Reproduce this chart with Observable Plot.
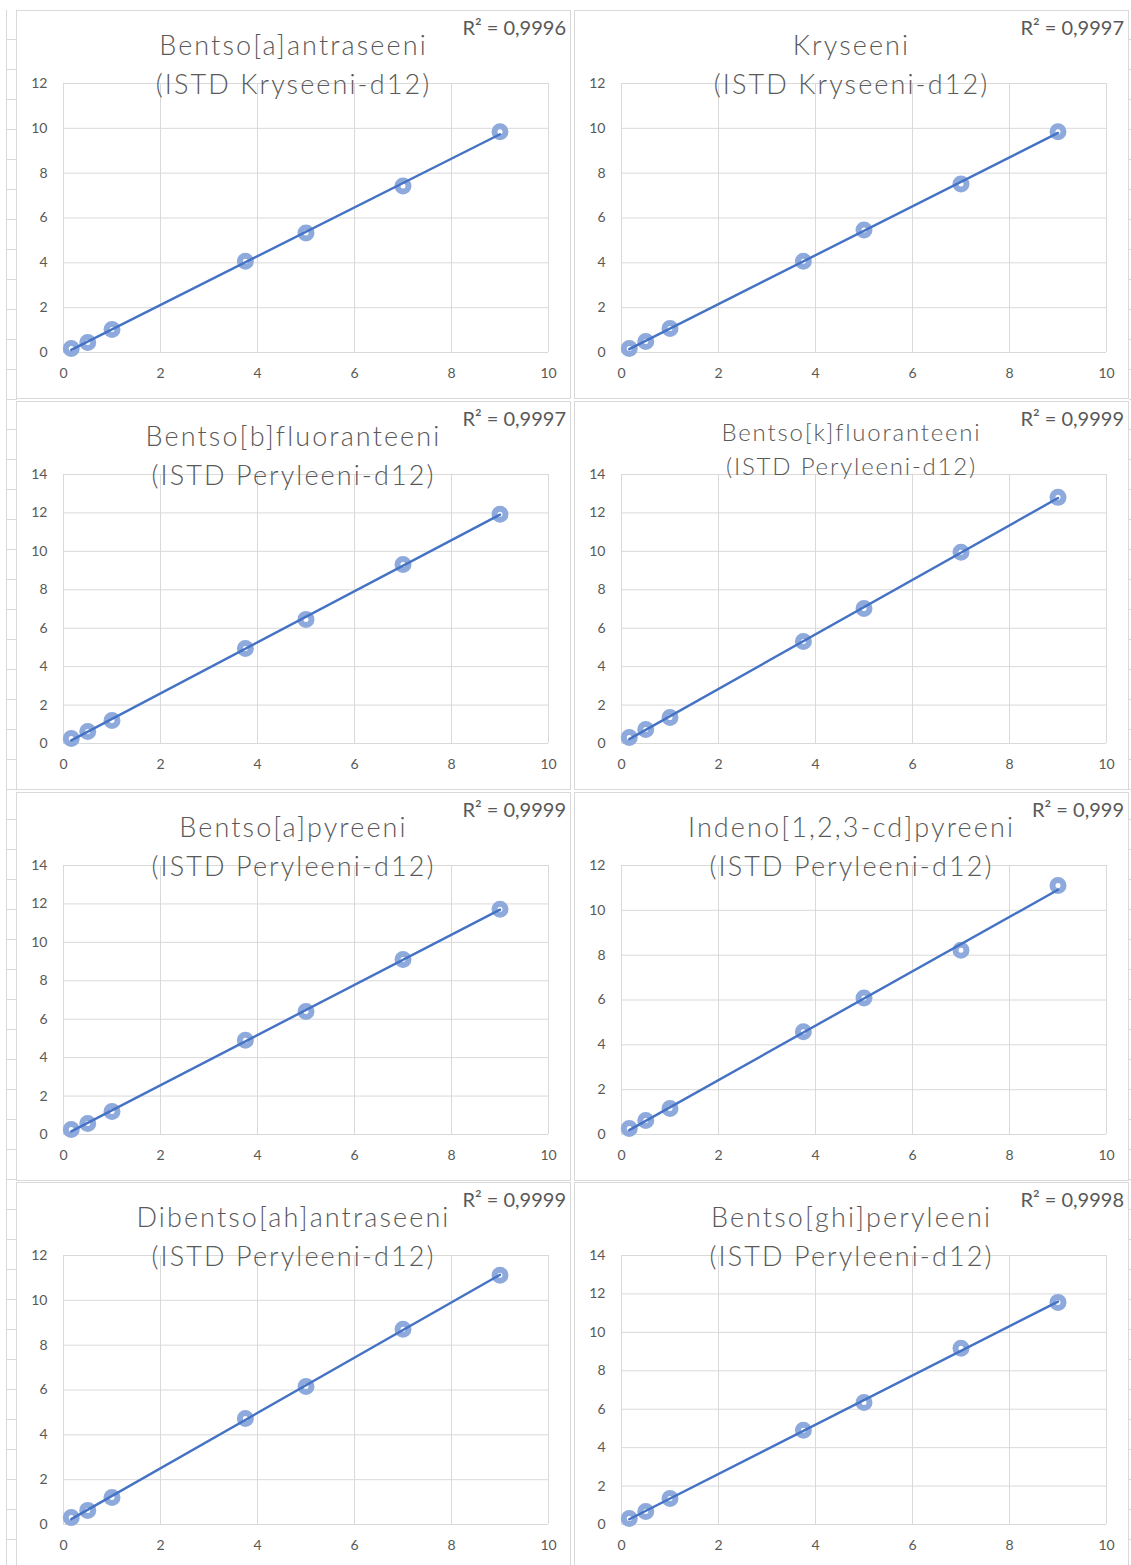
<!DOCTYPE html>
<html>
<head>
<meta charset="utf-8">
<script src="https://cdn.jsdelivr.net/npm/d3@7"></script>
<script src="https://cdn.jsdelivr.net/npm/@observablehq/plot@0.6"></script>
<style>
  body { margin: 0; background: #fff; width: 1131px; height: 1565px; overflow: hidden; position: relative;
         font-family: Lato, "Open Sans", "Noto Sans", sans-serif; }
  .sheet-left { position: absolute; left: 6px; top: 10px; width: 10px; height: 1560px;
                border-left: 1px solid #D9D9D9;
                background: repeating-linear-gradient(to bottom, transparent 0 29px, #D9D9D9 29px 30px); }
  .sheet-right { position: absolute; left: 1129px; top: 10px; width: 4px; height: 1560px;
                 background: repeating-linear-gradient(to bottom, transparent 0 29px, #D9D9D9 29px 30px); }
  .panel { position: absolute; box-sizing: border-box; width: 555px; height: 389px;
           border: 1px solid #D9D9D9; background: #fff; overflow: hidden; }
  .panel svg { position: absolute; left: 0; top: 0; }
  .panel svg text { font-size: 14px !important; font-family: Lato, "Open Sans", sans-serif !important; fill: #595959; }
  .title { position: absolute; left: 0; right: 0; top: 14px; text-align: center; color: #595959;
           font-weight: 300; font-size: 27px; letter-spacing: 2.1px; line-height: 39px; white-space: nowrap; }
  .title.compact { top: 13px; font-size: 24px; letter-spacing: 1.8px; line-height: 34px; }
  .r2 { position: absolute; right: 4px; top: 4px; color: #595959; font-size: 20px; white-space: nowrap; }
</style>
</head>
<body>
<div class="sheet-left"></div>
<div class="sheet-right"></div>
<div id="charts"></div>
<script>
// Calibration standards: concentration levels (x) shared by every compound
const concentrations = [0.16, 0.5, 1, 3.75, 5, 7, 9];

// Compound names and their internal standards
const compounds = [
  "Bentso[a]antraseeni",
  "Kryseeni",
  "Bentso[b]fluoranteeni",
  "Bentso[k]fluoranteeni",
  "Bentso[a]pyreeni",
  "Indeno[1,2,3-cd]pyreeni",
  "Dibentso[ah]antraseeni",
  "Bentso[ghi]peryleeni"
];
const standards = [
  "(ISTD Kryseeni-d12)",
  "(ISTD Kryseeni-d12)",
  "(ISTD Peryleeni-d12)",
  "(ISTD Peryleeni-d12)",
  "(ISTD Peryleeni-d12)",
  "(ISTD Peryleeni-d12)",
  "(ISTD Peryleeni-d12)",
  "(ISTD Peryleeni-d12)"
];

// Response ratios per compound
const bentsoAAntraseeni   = [0.18, 0.45, 1.03, 4.07, 5.33, 7.43, 9.85];
const kryseeni            = [0.18, 0.49, 1.07, 4.07, 5.46, 7.52, 9.85];
const bentsoBFluoranteeni = [0.26, 0.63, 1.20, 4.95, 6.46, 9.32, 11.93];
const bentsoKFluoranteeni = [0.31, 0.73, 1.35, 5.31, 7.03, 9.95, 12.81];
const bentsoAPyreeni      = [0.26, 0.57, 1.20, 4.90, 6.40, 9.11, 11.72];
const indenoPyreeni       = [0.27, 0.62, 1.16, 4.58, 6.09, 8.22, 11.11];
const dibentsoAhAntraseeni= [0.31, 0.63, 1.20, 4.73, 6.16, 8.71, 11.12];
const bentsoGhiPeryleeni  = [0.31, 0.68, 1.35, 4.90, 6.35, 9.17, 11.56];

const responses = [
  bentsoAAntraseeni, kryseeni, bentsoBFluoranteeni, bentsoKFluoranteeni,
  bentsoAPyreeni, indenoPyreeni, dibentsoAhAntraseeni, bentsoGhiPeryleeni
];

// Coefficient of determination shown for each calibration line
const r2Labels = ["0,9996", "0,9997", "0,9997", "0,9999", "0,9999", "0,999", "0,9999", "0,9998"];

// Axis ranges and tick values
const xTicks = [0, 2, 4, 6, 8, 10];
const yMax = [12, 12, 14, 14, 14, 12, 12, 14];

// Grid layout of the panels
const colLeft = [16, 574];
const rowTop = [10, 401, 792, 1182];
const PANEL_W = 555, PANEL_H = 389;
const compactTitles = new Set([3]);

const root = document.getElementById("charts");

compounds.forEach((name, i) => {
  const col = i % 2, row = Math.floor(i / 2);
  const panel = document.createElement("div");
  panel.className = "panel";
  panel.style.left = colLeft[col] + "px";
  panel.style.top = rowTop[row] + "px";

  const data = concentrations.map((c, k) => ({x: c, y: responses[i][k]}));
  const yTicks = d3.range(0, yMax[i] + 1, 2);

  const svg = Plot.plot({
    width: PANEL_W - 2,
    height: PANEL_H - 2,
    marginLeft: 46,
    marginRight: 22,
    marginTop: 72,
    marginBottom: 46,
    style: {fontFamily: "Lato, 'Open Sans', sans-serif", fontSize: "14px", color: "#595959", background: "transparent"},
    x: {domain: [0, 10], ticks: xTicks, tickSize: 0, tickPadding: 16, label: null},
    y: {domain: [0, yMax[i]], ticks: yTicks, tickSize: 0, tickPadding: 16, label: null},
    marks: [
      Plot.ruleX(xTicks, {stroke: "#D9D9D9", strokeWidth: 1}),
      Plot.ruleY(yTicks, {stroke: "#D9D9D9", strokeWidth: 1}),
      Plot.dot(data, {x: "x", y: "y", r: 5.5, fill: "white", stroke: "#8EA9DB", strokeWidth: 6}),
      Plot.linearRegressionY(data, {x: "x", y: "y", stroke: "#4472C4", strokeWidth: 2.4, ci: 0})
    ]
  });
  panel.appendChild(svg);

  const title = document.createElement("div");
  title.className = "title" + (compactTitles.has(i) ? " compact" : "");
  const l1 = document.createElement("div"); l1.textContent = name;
  const l2 = document.createElement("div"); l2.textContent = standards[i];
  title.append(l1, l2);
  panel.appendChild(title);

  const r2 = document.createElement("div");
  r2.className = "r2";
  r2.textContent = "R\u00B2 = " + r2Labels[i];
  panel.appendChild(r2);

  root.appendChild(panel);
});
</script>
</body>
</html>
